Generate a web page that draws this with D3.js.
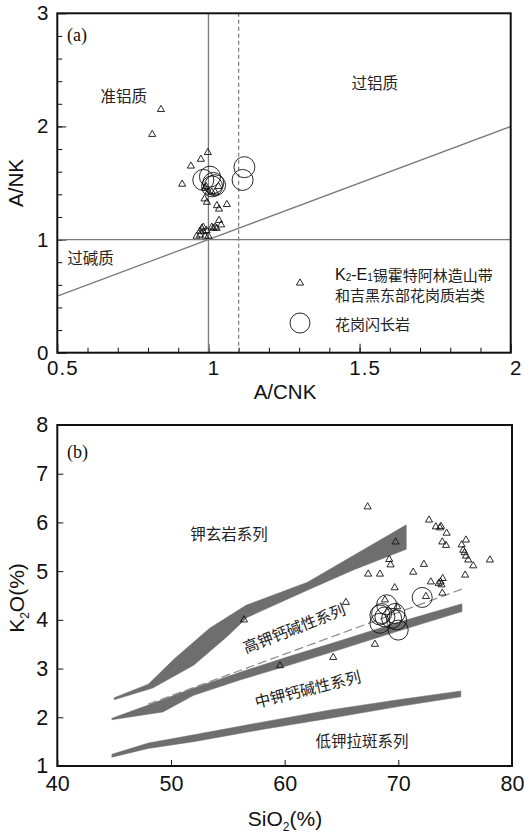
<!DOCTYPE html>
<html>
<head>
<meta charset="utf-8">
<title>A/CNK-A/NK and SiO2-K2O</title>
<script src="https://cdn.jsdelivr.net/npm/d3@7"></script>
<style>
  body { margin: 0; background: #fff; }
  .tick text { font-family: "Liberation Sans", Arial, sans-serif; fill: #111; }
  .cn { font-family: "Noto Sans CJK SC", sans-serif; fill: #222; }
  .latin { font-family: "Liberation Sans", Arial, sans-serif; fill: #111; }
</style>
</head>
<body>
<div id="chart"></div>
<script>
// ---- panel (a): A/CNK vs A/NK ----
var aTriangles = [
  [0.843, 2.15], [0.814, 1.93], [0.998, 1.77], [0.975, 1.71], [0.942, 1.65],
  [0.913, 1.49], [0.987, 1.36], [0.995, 1.33], [1.028, 1.30], [1.035, 1.27],
  [1.061, 1.31], [1.035, 1.17], [1.042, 1.13],
  [0.961, 1.03], [0.972, 1.04], [0.978, 1.10], [0.983, 1.11], [0.983, 1.07],
  [0.989, 1.03], [0.994, 1.08], [0.972, 1.075], [1.011, 1.11], [1.022, 1.11],
  [1.027, 1.10], [1.016, 1.10], [1.0, 1.03],
  [0.989, 1.455], [1.0, 1.42], [1.011, 1.42], [1.022, 1.42], [1.033, 1.47], [0.992, 1.47]
];
var aCircles = [
  [0.983, 1.527], [1.005, 1.556], [1.016, 1.50], [1.022, 1.48], [1.012, 1.47],
  [1.119, 1.64], [1.113, 1.527]
];
var aXTicks = [0.5, 1, 1.5, 2];
var aYTicks = [0, 1, 2, 3];
var aRegions = [
  {text: "准铝质", x: 0.72, y: 2.28},
  {text: "过铝质", x: 1.55, y: 2.39},
  {text: "过碱质", x: 0.61, y: 0.85}
];
var aLegend = [
  {symbol: "triangle", lines: ["K2-E1锡霍特阿林造山带", "和吉黑东部花岗质岩类"]},
  {symbol: "circle", lines: ["花岗闪长岩"]}
];

// ---- panel (b): SiO2 vs K2O ----
var bTriangles = [
  [67.3, 6.32], [72.7, 6.05], [73.3, 5.91], [73.66, 5.89], [73.75, 5.92], [74.25, 5.78],
  [69.76, 5.6], [73.87, 5.6], [74.19, 5.53], [75.95, 5.64], [75.57, 5.54],
  [75.71, 5.43], [75.83, 5.38], [75.95, 5.31], [76.15, 5.23], [76.59, 5.11],
  [78.06, 5.23], [75.88, 4.92], [69.2, 5.24], [69.32, 5.13], [67.35, 4.94],
  [68.38, 4.94], [71.31, 4.98], [72.25, 5.14], [72.86, 4.78], [73.55, 4.75],
  [73.72, 4.78], [73.9, 4.85], [73.8, 4.72], [73.87, 4.55], [69.68, 4.66],
  [72.43, 4.48], [68.82, 4.41], [69.9, 4.27], [65.39, 4.36], [56.42, 4.0],
  [59.59, 3.06], [64.27, 3.23], [67.94, 3.50]
];
var bCircles = [
  [68.97, 4.31], [68.53, 4.13], [68.38, 3.93], [68.82, 4.06], [69.41, 4.03],
  [69.85, 4.0], [69.7, 4.13], [69.99, 3.79], [68.38, 4.10], [72.1, 4.46]
];
var bandShoshonite = [
  [45, 2.40], [48, 2.68], [50.3, 3.2], [53.4, 3.83], [56.6, 4.3], [62, 4.77], [68.4, 5.64], [70.7, 5.95],
  [70.7, 5.45], [66, 5.02], [62, 4.61], [56.7, 4.05], [54.9, 3.65], [52, 3.07], [48.4, 2.60], [45, 2.36]
];
var bandHighK = [
  [44.8, 1.98], [48, 2.25], [52, 2.6], [56, 2.92], [60, 3.22], [65, 3.58], [70, 3.95], [75.6, 4.33],
  [75.6, 4.17], [70, 3.77], [65, 3.4], [60, 3.04], [56, 2.76], [52, 2.45], [49.3, 2.11], [44.8, 1.95]
];
var bandMediumK = [
  [44.8, 1.24], [48, 1.47], [52, 1.64], [58, 1.9], [64, 2.15], [70, 2.36], [75.5, 2.54],
  [75.5, 2.42], [70, 2.22], [64, 1.98], [58, 1.75], [52, 1.5], [48, 1.36], [44.8, 1.18]
];
var bDashed = [[48, 2.27], [75.7, 4.64]];
var bXTicks = [40, 50, 60, 70, 80];
var bYTicks = [1, 2, 3, 4, 5, 6, 7, 8];
var bSeries = [
  {text: "钾玄岩系列", x: 55.1, y: 5.79, angle: 0},
  {text: "高钾钙碱性系列", x: 60.8, y: 3.85, angle: -21.5},
  {text: "中钾钙碱性系列", x: 62.0, y: 2.6, angle: -14},
  {text: "低钾拉斑系列", x: 66.8, y: 1.53, angle: 0}
];

var width = 524, height = 833;
var svg = d3.select("#chart").append("svg")
  .attr("width", width)
  .attr("height", height);

var gray = "#7a7a7a";
var triangle = d3.symbol().type(d3.symbolTriangle).size(22);

// ================= panel (a) =================
var xa = d3.scaleLinear().domain([0.5, 2]).range([57.3, 510.7]);
var ya = d3.scaleLinear().domain([0, 3]).range([352.7, 13.3]);
var ga = svg.append("g");

// minor ticks
ga.append("g")
  .attr("transform", "translate(0," + ya(0) + ")")
  .call(d3.axisBottom(xa).tickValues(d3.range(0.6, 2, 0.1)).tickSize(-5).tickFormat(""))
  .call(function(g) { g.select(".domain").remove(); g.selectAll("line").attr("stroke", "#111"); });
ga.append("g")
  .attr("transform", "translate(" + xa(0.5) + ",0)")
  .call(d3.axisLeft(ya).tickValues(d3.range(0.2, 3, 0.2)).tickSize(-5).tickFormat(""))
  .call(function(g) { g.select(".domain").remove(); g.selectAll("line").attr("stroke", "#111"); });
// major ticks + labels
ga.append("g")
  .attr("transform", "translate(0," + ya(0) + ")")
  .call(d3.axisBottom(xa).tickValues(aXTicks).tickSize(-9).tickPadding(8).tickFormat(d3.format("")))
  .call(function(g) {
    g.select(".domain").remove();
    g.selectAll("line").attr("stroke", "#111");
    g.selectAll("text").attr("font-size", 20.5).attr("dx", 5).attr("letter-spacing", 1);
  });
ga.append("g")
  .attr("transform", "translate(" + xa(0.5) + ",0)")
  .call(d3.axisLeft(ya).tickValues(aYTicks).tickSize(-9).tickPadding(9).tickFormat(d3.format("")))
  .call(function(g) {
    g.select(".domain").remove();
    g.selectAll("line").attr("stroke", "#111");
    g.selectAll("text").attr("font-size", 20.5);
  });

// reference lines
ga.append("line").attr("x1", xa(1)).attr("x2", xa(1)).attr("y1", ya(0)).attr("y2", ya(3))
  .attr("stroke", gray).attr("stroke-width", 1.3);
ga.append("line").attr("x1", xa(1.1)).attr("x2", xa(1.1)).attr("y1", ya(0)).attr("y2", ya(3))
  .attr("stroke", gray).attr("stroke-width", 1.2).attr("stroke-dasharray", "4,3");
ga.append("line").attr("x1", xa(0.5)).attr("x2", xa(2)).attr("y1", ya(1)).attr("y2", ya(1))
  .attr("stroke", gray).attr("stroke-width", 1.3);
ga.append("line").attr("x1", xa(0.5)).attr("x2", xa(2)).attr("y1", ya(0.5)).attr("y2", ya(2))
  .attr("stroke", gray).attr("stroke-width", 1.3);

// points
ga.selectAll(".tri").data(aTriangles).enter().append("path")
  .attr("d", triangle)
  .attr("transform", function(d) { return "translate(" + xa(d[0]) + "," + ya(d[1]) + ")"; })
  .attr("fill", "none").attr("stroke", "#111").attr("stroke-width", 0.9);
ga.selectAll(".cir").data(aCircles).enter().append("circle")
  .attr("cx", function(d) { return xa(d[0]); })
  .attr("cy", function(d) { return ya(d[1]); })
  .attr("r", 10.5)
  .attr("fill", "none").attr("stroke", "#111").attr("stroke-width", 0.9);

// frame
ga.append("rect").attr("x", xa(0.5)).attr("y", ya(3))
  .attr("width", xa(2) - xa(0.5)).attr("height", ya(0) - ya(3))
  .attr("fill", "none").attr("stroke", "#111").attr("stroke-width", 2);

// texts
ga.append("text").attr("x", 67).attr("y", 41)
  .attr("font-family", "Liberation Serif, serif").attr("font-size", 18).attr("fill", "#111").text("(a)");
ga.selectAll(".region").data(aRegions).enter().append("text")
  .attr("class", "cn")
  .attr("x", function(d) { return xa(d.x); })
  .attr("y", function(d) { return ya(d.y); })
  .attr("text-anchor", "middle").attr("dominant-baseline", "central")
  .attr("font-size", 15.5)
  .text(function(d) { return d.text; });

// legend
var legY = [283, 323];
aLegend.forEach(function(item, i) {
  if (item.symbol === "triangle") {
    ga.append("path").attr("d", triangle)
      .attr("transform", "translate(300," + legY[i] + ")")
      .attr("fill", "none").attr("stroke", "#111").attr("stroke-width", 0.9);
  } else {
    ga.append("circle").attr("cx", 300).attr("cy", legY[i]).attr("r", 10)
      .attr("fill", "none").attr("stroke", "#111").attr("stroke-width", 0.9);
  }
  item.lines.forEach(function(line, j) {
    var ty = item.lines.length > 1 ? legY[i] - 9 + j * 20.5 : legY[i];
    var t = ga.append("text").attr("class", "cn").attr("x", 335).attr("y", ty)
      .attr("dominant-baseline", "central").attr("font-size", 15);
    var m = line.match(/^K2-E1(.*)$/);
    if (m) {
      t.append("tspan").attr("class", "latin").attr("font-size", 16).text("K");
      t.append("tspan").attr("class", "latin").attr("font-size", 10).attr("dy", 3).text("2");
      t.append("tspan").attr("class", "latin").attr("font-size", 16).attr("dy", -3).text("-E");
      t.append("tspan").attr("class", "latin").attr("font-size", 10).attr("dy", 3).text("1");
      t.append("tspan").attr("dy", -3).text(m[1]);
    } else {
      t.text(line);
    }
  });
});

// axis titles
ga.append("text").attr("class", "latin").attr("x", 285).attr("y", 399)
  .attr("text-anchor", "middle").attr("font-size", 20.5).text("A/CNK");
ga.append("text").attr("class", "latin")
  .attr("transform", "translate(23,183) rotate(-90)")
  .attr("text-anchor", "middle").attr("font-size", 20.5).text("A/NK");

// ================= panel (b) =================
var xb = d3.scaleLinear().domain([40, 80]).range([57.3, 512]);
var yb = d3.scaleLinear().domain([1, 8]).range([766, 425]);
var gb = svg.append("g");

var polyLine = d3.line().x(function(d) { return xb(d[0]); }).y(function(d) { return yb(d[1]); });
[bandShoshonite, bandHighK, bandMediumK].forEach(function(band) {
  gb.append("path").attr("d", polyLine(band) + "Z")
    .attr("fill", "#6e6e6e").attr("stroke", "#6e6e6e").attr("stroke-width", 0.5);
});
gb.append("path").attr("d", polyLine(bDashed))
  .attr("fill", "none").attr("stroke", "#8a8a8a").attr("stroke-width", 1.2)
  .attr("stroke-dasharray", "9,4");

gb.append("g")
  .attr("transform", "translate(0," + yb(1) + ")")
  .call(d3.axisBottom(xb).tickValues(bXTicks).tickSize(-6).tickPadding(10).tickFormat(d3.format("")))
  .call(function(g) {
    g.select(".domain").remove();
    g.selectAll("line").attr("stroke", "#111");
    g.selectAll("text").attr("font-size", 21.5);
  });
gb.append("g")
  .attr("transform", "translate(" + xb(40) + ",0)")
  .call(d3.axisLeft(yb).tickValues(bYTicks).tickSize(-6).tickPadding(9).tickFormat(d3.format("")))
  .call(function(g) {
    g.select(".domain").remove();
    g.selectAll("line").attr("stroke", "#111");
    g.selectAll("text").attr("font-size", 21.5);
  });

gb.selectAll(".tri").data(bTriangles).enter().append("path")
  .attr("d", triangle)
  .attr("transform", function(d) { return "translate(" + xb(d[0]) + "," + yb(d[1]) + ")"; })
  .attr("fill", "none").attr("stroke", "#111").attr("stroke-width", 0.9);
gb.selectAll(".cir").data(bCircles).enter().append("circle")
  .attr("cx", function(d) { return xb(d[0]); })
  .attr("cy", function(d) { return yb(d[1]); })
  .attr("r", 10)
  .attr("fill", "none").attr("stroke", "#111").attr("stroke-width", 0.9);

gb.append("rect").attr("x", xb(40)).attr("y", yb(8))
  .attr("width", xb(80) - xb(40)).attr("height", yb(1) - yb(8))
  .attr("fill", "none").attr("stroke", "#111").attr("stroke-width", 2);

gb.append("text").attr("x", 67).attr("y", 458)
  .attr("font-family", "Liberation Serif, serif").attr("font-size", 18).attr("fill", "#111").text("(b)");
gb.selectAll(".series").data(bSeries).enter().append("text")
  .attr("class", "cn")
  .attr("transform", function(d) {
    return "translate(" + xb(d.x) + "," + yb(d.y) + ") rotate(" + d.angle + ")";
  })
  .attr("text-anchor", "middle").attr("dominant-baseline", "central")
  .attr("font-size", 15.5)
  .text(function(d) { return d.text; });

// axis titles with subscripts
var sx = gb.append("text").attr("class", "latin").attr("x", 285).attr("y", 826)
  .attr("text-anchor", "middle").attr("font-size", 21);
sx.append("tspan").text("SiO");
sx.append("tspan").attr("font-size", 12).attr("dy", 5).text("2");
sx.append("tspan").attr("dy", -5).text("(%)");
var sy = gb.append("text").attr("class", "latin")
  .attr("transform", "translate(24,598) rotate(-90)")
  .attr("text-anchor", "middle").attr("font-size", 21);
sy.append("tspan").text("K");
sy.append("tspan").attr("font-size", 12).attr("dy", 5).text("2");
sy.append("tspan").attr("dy", -5).text("O(%)");
</script>
</body>
</html>
